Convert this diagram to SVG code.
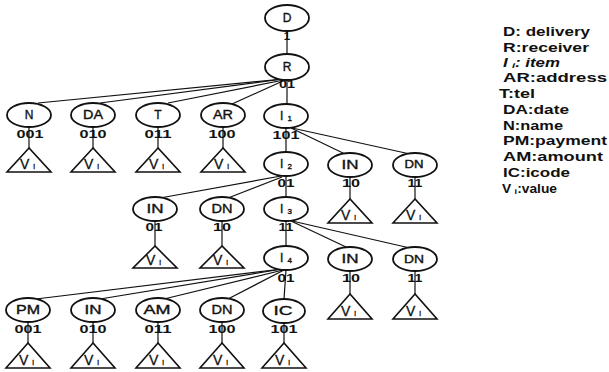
<svg xmlns="http://www.w3.org/2000/svg" width="609" height="372" viewBox="0 0 609 372">
<style>
.e{fill:#fff;stroke:#111;stroke-width:1.8}
.t{font-family:"Liberation Sans",Arial,sans-serif;font-size:12px;fill:#111;stroke:#111;stroke-width:0.35;text-anchor:middle}
.c{font-family:"Liberation Sans",Arial,sans-serif;font-weight:bold;font-size:11.5px;fill:#111;text-anchor:middle}
.tri{fill:#fff;stroke:#111;stroke-width:1.6;stroke-linejoin:miter}
.v{font-family:"Liberation Sans",Arial,sans-serif;font-size:14px;fill:#111;stroke:#111;stroke-width:0.3}
.s{font-size:8px}
.lg{font-family:"Liberation Sans",Arial,sans-serif;font-weight:bold;font-size:12px;fill:#111}
#connectors path{stroke:#111;stroke-width:1.2;fill:none}
</style>
<rect width="609" height="372" fill="#fff"/>
<g id="connectors">
<path d="M287,31V54"/>
<path d="M287,80V104"/>
<path d="M283,79L38,103"/>
<path d="M283,79L100,103"/>
<path d="M284,80L168,103"/>
<path d="M285,80L232,104"/>
<path d="M286,128V152"/>
<path d="M291,128L345,154"/>
<path d="M292,128L410,154"/>
<path d="M286,176V197"/>
<path d="M281,176L160,198"/>
<path d="M282,177L228,198"/>
<path d="M286,221V246"/>
<path d="M291,221L346,247"/>
<path d="M292,221L410,248"/>
<path d="M282,269L36,299"/>
<path d="M282,269L100,299"/>
<path d="M283,270L164,299"/>
<path d="M284,270L228,299"/>
<path d="M286,270L284,299"/>
<path d="M29,127V148"/>
<path d="M93,127V148"/>
<path d="M158,127V148"/>
<path d="M223,127V148"/>
<path d="M350,177V199"/>
<path d="M415,177V199"/>
<path d="M155,221V246"/>
<path d="M222,221V246"/>
<path d="M350,271V294"/>
<path d="M415,271V294"/>
<path d="M28,322V343"/>
<path d="M93,322V343"/>
<path d="M158,322V343"/>
<path d="M222,322V343"/>
<path d="M284,322V343"/>
</g>
<g id="node-D"><ellipse class="e" cx="287" cy="18" rx="22" ry="13"/><text class="t" x="287" y="22">D</text><text class="c" x="287" y="40">1</text></g>
<g id="node-R"><ellipse class="e" cx="287" cy="67" rx="22" ry="13"/><text class="t" x="287" y="71">R</text><text class="c" x="287" y="88" textLength="16" lengthAdjust="spacingAndGlyphs">01</text></g>
<g id="node-N"><ellipse class="e" cx="29" cy="115" rx="22" ry="12"/><text class="t" x="29" y="119">N</text><text class="c" x="30" y="138" textLength="27" lengthAdjust="spacingAndGlyphs">001</text></g>
<g id="node-DA"><ellipse class="e" cx="93" cy="115" rx="22" ry="12"/><text class="t" x="93" y="119" textLength="20" lengthAdjust="spacingAndGlyphs">DA</text><text class="c" x="93" y="138" textLength="27" lengthAdjust="spacingAndGlyphs">010</text></g>
<g id="node-T"><ellipse class="e" cx="158" cy="115" rx="22" ry="12"/><text class="t" x="158" y="119">T</text><text class="c" x="158" y="138" textLength="27" lengthAdjust="spacingAndGlyphs">011</text></g>
<g id="node-AR"><ellipse class="e" cx="223" cy="115" rx="22" ry="12"/><text class="t" x="223" y="119" textLength="20" lengthAdjust="spacingAndGlyphs">AR</text><text class="c" x="222" y="138" textLength="27" lengthAdjust="spacingAndGlyphs">100</text></g>
<g id="node-I1"><ellipse class="e" cx="286" cy="116" rx="22" ry="12"/><text class="t" x="286" y="120">I<tspan class="s" dx="4" dy="1">1</tspan></text><text class="c" x="286" y="139" textLength="27" lengthAdjust="spacingAndGlyphs">101</text></g>
<g id="node-I2"><ellipse class="e" cx="286" cy="164" rx="22" ry="12"/><text class="t" x="286" y="168">I<tspan class="s" dx="4" dy="1">2</tspan></text><text class="c" x="286" y="187" textLength="17" lengthAdjust="spacingAndGlyphs">01</text></g>
<g id="node-IN-a"><ellipse class="e" cx="350" cy="165" rx="22" ry="12"/><text class="t" x="350" y="169" textLength="17" lengthAdjust="spacingAndGlyphs">IN</text><text class="c" x="351" y="187" textLength="18" lengthAdjust="spacingAndGlyphs">10</text></g>
<g id="node-DN-a"><ellipse class="e" cx="415" cy="165" rx="22" ry="12"/><text class="t" x="414" y="168" style="font-size:10px" textLength="19" lengthAdjust="spacingAndGlyphs">DN</text><text class="c" x="415" y="187" textLength="15" lengthAdjust="spacingAndGlyphs">11</text></g>
<g id="node-IN-b"><ellipse class="e" cx="155" cy="209" rx="22" ry="12"/><text class="t" x="155" y="213" textLength="17" lengthAdjust="spacingAndGlyphs">IN</text><text class="c" x="154" y="231" textLength="17" lengthAdjust="spacingAndGlyphs">01</text></g>
<g id="node-DN-b"><ellipse class="e" cx="222" cy="209" rx="22" ry="12"/><text class="t" x="222" y="213" textLength="21" lengthAdjust="spacingAndGlyphs">DN</text><text class="c" x="222" y="231" textLength="18" lengthAdjust="spacingAndGlyphs">10</text></g>
<g id="node-I3"><ellipse class="e" cx="286" cy="209" rx="22" ry="12"/><text class="t" x="286" y="213">I<tspan class="s" dx="4" dy="1">3</tspan></text><text class="c" x="286" y="231" textLength="15" lengthAdjust="spacingAndGlyphs">11</text></g>
<g id="node-I4"><ellipse class="e" cx="286" cy="258" rx="22" ry="12"/><text class="t" x="286" y="262">I<tspan class="s" dx="4" dy="1">4</tspan></text><text class="c" x="286" y="282" textLength="17" lengthAdjust="spacingAndGlyphs">01</text></g>
<g id="node-IN-c"><ellipse class="e" cx="350" cy="259" rx="22" ry="12"/><text class="t" x="350" y="263" textLength="17" lengthAdjust="spacingAndGlyphs">IN</text><text class="c" x="351" y="282" textLength="18" lengthAdjust="spacingAndGlyphs">10</text></g>
<g id="node-DN-c"><ellipse class="e" cx="415" cy="259" rx="22" ry="12"/><text class="t" x="414" y="263" style="font-size:11px" textLength="20" lengthAdjust="spacingAndGlyphs">DN</text><text class="c" x="415" y="282" textLength="15" lengthAdjust="spacingAndGlyphs">11</text></g>
<g id="node-PM"><ellipse class="e" cx="28" cy="310" rx="22" ry="12"/><text class="t" x="28" y="314" textLength="24" lengthAdjust="spacingAndGlyphs">PM</text><text class="c" x="28" y="333" textLength="27" lengthAdjust="spacingAndGlyphs">001</text></g>
<g id="node-IN-d"><ellipse class="e" cx="93" cy="310" rx="22" ry="12"/><text class="t" x="93" y="314" textLength="17" lengthAdjust="spacingAndGlyphs">IN</text><text class="c" x="93" y="333" textLength="27" lengthAdjust="spacingAndGlyphs">010</text></g>
<g id="node-AM"><ellipse class="e" cx="158" cy="310" rx="22" ry="12"/><text class="t" x="157" y="314" textLength="27" lengthAdjust="spacingAndGlyphs">AM</text><text class="c" x="158" y="333" textLength="27" lengthAdjust="spacingAndGlyphs">011</text></g>
<g id="node-DN-d"><ellipse class="e" cx="222" cy="310" rx="22" ry="12"/><text class="t" x="222" y="314" textLength="21" lengthAdjust="spacingAndGlyphs">DN</text><text class="c" x="222" y="333" textLength="27" lengthAdjust="spacingAndGlyphs">100</text></g>
<g id="node-IC"><ellipse class="e" cx="284" cy="311" rx="21" ry="12"/><text class="t" x="283" y="315" textLength="19" lengthAdjust="spacingAndGlyphs">IC</text><text class="c" x="284" y="333" textLength="27" lengthAdjust="spacingAndGlyphs">101</text></g>
<g id="value-N"><polygon class="tri" points="29,148 7,172 51,172"/><text class="v" x="20" y="169">V<tspan class="s" dx="4">i</tspan></text></g>
<g id="value-DA"><polygon class="tri" points="93,148 71,172 115,172"/><text class="v" x="84" y="169">V<tspan class="s" dx="4">i</tspan></text></g>
<g id="value-T"><polygon class="tri" points="158,148 136,172 180,172"/><text class="v" x="149" y="169">V<tspan class="s" dx="4">i</tspan></text></g>
<g id="value-AR"><polygon class="tri" points="223,148 201,172 245,172"/><text class="v" x="214" y="169">V<tspan class="s" dx="4">i</tspan></text></g>
<g id="value-IN-a"><polygon class="tri" points="350,199 328,223 372,223"/><text class="v" x="341" y="220">V<tspan class="s" dx="4">i</tspan></text></g>
<g id="value-DN-a"><polygon class="tri" points="415,199 393,223 437,223"/><text class="v" x="406" y="220">V<tspan class="s" dx="4">i</tspan></text></g>
<g id="value-IN-b"><polygon class="tri" points="155,246 133,268 177,268"/><text class="v" x="146" y="265">V<tspan class="s" dx="4">i</tspan></text></g>
<g id="value-DN-b"><polygon class="tri" points="222,246 200,268 244,268"/><text class="v" x="213" y="265">V<tspan class="s" dx="4">i</tspan></text></g>
<g id="value-IN-c"><polygon class="tri" points="350,294 328,319 372,319"/><text class="v" x="341" y="316">V<tspan class="s" dx="4">i</tspan></text></g>
<g id="value-DN-c"><polygon class="tri" points="415,294 393,319 437,319"/><text class="v" x="406" y="316">V<tspan class="s" dx="4">i</tspan></text></g>
<g id="value-PM"><polygon class="tri" points="28,343 6,368 50,368"/><text class="v" x="19" y="365">V<tspan class="s" dx="4">i</tspan></text></g>
<g id="value-IN-d"><polygon class="tri" points="93,343 71,368 115,368"/><text class="v" x="84" y="365">V<tspan class="s" dx="4">i</tspan></text></g>
<g id="value-AM"><polygon class="tri" points="158,343 136,368 180,368"/><text class="v" x="149" y="365">V<tspan class="s" dx="4">i</tspan></text></g>
<g id="value-DN-d"><polygon class="tri" points="222,343 200,368 244,368"/><text class="v" x="213" y="365">V<tspan class="s" dx="4">i</tspan></text></g>
<g id="value-IC"><polygon class="tri" points="284,343 262,368 306,368"/><text class="v" x="275" y="365">V<tspan class="s" dx="4">i</tspan></text></g>
<g id="legend">
<text class="lg" x="503" y="36" textLength="87" lengthAdjust="spacingAndGlyphs">D: delivery</text>
<text class="lg" x="503" y="52" textLength="86" lengthAdjust="spacingAndGlyphs">R:receiver</text>
<text class="lg" x="503" y="67" font-style="italic" textLength="57" lengthAdjust="spacingAndGlyphs">I<tspan class="s" dx="3" dy="1">i</tspan><tspan dy="-1">: item</tspan></text>
<text class="lg" x="503" y="82" textLength="104" lengthAdjust="spacingAndGlyphs">AR:address</text>
<text class="lg" x="499" y="98" textLength="36" lengthAdjust="spacingAndGlyphs">T:tel</text>
<text class="lg" x="503" y="114" textLength="66" lengthAdjust="spacingAndGlyphs">DA:date</text>
<text class="lg" x="503" y="130" textLength="60" lengthAdjust="spacingAndGlyphs">N:name</text>
<text class="lg" x="503" y="145" textLength="104" lengthAdjust="spacingAndGlyphs">PM:payment</text>
<text class="lg" x="503" y="161" textLength="100" lengthAdjust="spacingAndGlyphs">AM:amount</text>
<text class="lg" x="503" y="177" textLength="67" lengthAdjust="spacingAndGlyphs">IC:icode</text>
<text class="lg" x="502" y="193" textLength="55" lengthAdjust="spacingAndGlyphs">V<tspan class="s" dx="3" dy="1">i</tspan><tspan dy="-1">:value</tspan></text>
</g>
</svg>
